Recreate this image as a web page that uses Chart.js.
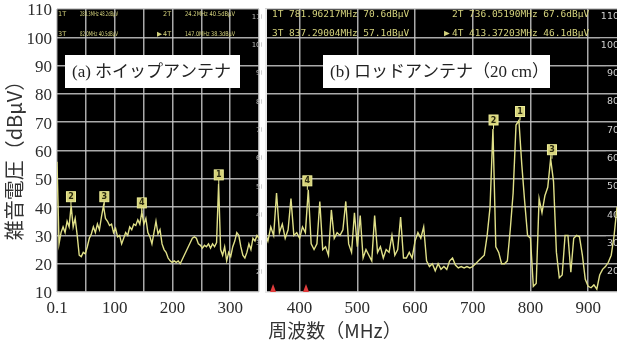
<!DOCTYPE html>
<html>
<head>
<meta charset="utf-8">
<script src="https://cdn.jsdelivr.net/npm/chart.js@4.4.1/dist/chart.umd.min.js"></script>
<style>
body { margin: 0; background: #fff; }
#wrap { position: relative; width: 617px; height: 347px; overflow: hidden; }
#whip { position: absolute; left: 0; top: 0; }
#rod { position: absolute; left: 262px; top: 0; }
#xtitle { position: absolute; left: 0; top: 319px; width: 670px; text-align: center;
  font: 19px "Noto Sans CJK JP"; line-height: 22px; color: #333; }
</style>
</head>
<body>
<div id="wrap">
  <canvas id="whip" width="262" height="347"></canvas>
  <canvas id="rod" width="355" height="347"></canvas>
  <div id="xtitle">周波数（MHz）</div>
</div>
<script>
// (a) whip antenna, sweep 0.1 - 350 MHz, one reading every 3.5 MHz
var whipStart = 0;
var whipStep = 3.5;
var whipLevel = [56, 27, 31, 33, 31, 35, 33, 40.5, 33, 36,
  30, 23, 22.5, 24, 23.5, 26, 29, 30.5, 33, 31,
  34, 32, 36.5, 40.5, 36, 35, 33.5, 34, 31, 32.5,
  29.5, 30, 27, 29, 31, 30, 33, 32, 34, 33.5,
  35.5, 34, 38.3, 34, 36, 31, 29.5, 27, 31, 35,
  30.5, 32, 27, 25, 24, 22, 21, 20.5, 21, 20.5,
  21, 20, 21.5, 23, 24.5, 26, 27.5, 29, 29.5, 29,
  27, 26.5, 25.5, 26.5, 26, 27, 25.5, 27, 26, 27.5,
  48.2, 25, 23, 26, 21, 24, 22.5, 26, 28, 31,
  30, 26, 23, 22, 24, 27, 25, 29, 28, 30, 29];
var whipTicks = [0, 50, 100, 150, 200, 250, 300, 350];
var whipTickLabels = ['0.1', '', '100', '', '200', '', '300', ''];
var whipMarkerFreq = [280.3, 24.2, 82.0, 147.0];
var whipMarkerLevel = [48.2, 40.5, 40.5, 38.3];

// (b) rod antenna 20 cm, 340 - 950 MHz, one reading every 5 MHz
var rodStart = 340;
var rodStep = 5;
var rodLevel = [31, 28, 33, 30, 45, 31, 34, 29, 32, 43,
  30, 31, 29, 33, 31, 46.1, 27, 25, 27, 42,
  25, 26, 23, 39, 29, 31, 30, 32, 42, 27,
  24, 38, 26, 37, 22, 25, 23, 21, 37, 24,
  26, 22, 25, 24, 30, 23, 25, 36.5, 22, 22,
  24, 22, 28, 31, 29, 33, 21, 19, 20, 17.5,
  20, 18, 19, 18, 21, 22, 19.5, 18.5, 19, 18.5,
  19, 18.5, 19, 20, 21, 22, 23, 30, 40, 67.6,
  26, 24, 20, 20, 21, 32, 45, 69, 70.6, 55,
  42, 30, 29, 12, 13, 43, 38, 44, 47, 57.1,
  49, 24, 15, 16, 30, 30, 17, 29, 30, 29.5,
  23, 14.5, 12, 11.5, 12.5, 11, 16, 18, 19, 20.5,
  23, 30, 40];
var rodTicks = [400, 500, 600, 700, 800, 900];
var rodTickLabels = ['400', '500', '600', '700', '800', '900'];
var rodMarkerFreq = [781.96217, 736.05190, 837.29004, 413.37203];
var rodMarkerLevel = [70.6, 67.6, 57.1, 46.1];
var rodRedMarks = [354, 411];

var levelMin = 10, levelMax = 110, levelStep = 10;

var gridColor = 'rgba(200,200,200,0.85)';
var traceColor = '#e0e088';
var serif = '"Liberation Serif", "DejaVu Serif", serif';

function toPoints(start, step, levels) {
  return levels.map(function(v, i) { return {x: start + i * step, y: v}; });
}

function fixWidth(w) {
  return function(scale) { scale.width = w; scale.paddingTop = 0; scale.paddingBottom = 0; };
}
function fixHeight(h) {
  return function(scale) { scale.height = h; scale.paddingLeft = 0; scale.paddingRight = 0; };
}
function setTicks(list) {
  return function(scale) { scale.ticks = list.map(function(v) { return {value: v}; }); };
}

function panelPlugin(cfg) {
  return {
    id: 'panel_' + cfg.name,
    beforeDraw: function(chart) {
      var a = chart.chartArea, ctx = chart.ctx;
      ctx.save();
      ctx.fillStyle = '#000';
      ctx.fillRect(a.left, a.top, a.right - a.left, a.bottom - a.top);
      ctx.restore();
    },
    afterDatasetsDraw: function(chart) {
      var ctx = chart.ctx, xs = chart.scales.x, ys = chart.scales.y, a = chart.chartArea;
      ctx.save();
      // red reference marks sitting on the bottom edge
      ctx.fillStyle = '#e03c3c';
      (cfg.redMarks || []).forEach(function(f) {
        var px = xs.getPixelForValue(f);
        ctx.beginPath();
        ctx.moveTo(px - 3, a.bottom);
        ctx.lineTo(px, a.bottom - 8);
        ctx.lineTo(px + 3, a.bottom);
        ctx.fill();
      });
      // numbered marker flags above each peak
      for (var i = 0; i < cfg.markerFreq.length; i++) {
        var px = xs.getPixelForValue(cfg.markerFreq[i]);
        var py = ys.getPixelForValue(cfg.markerLevel[i]);
        ctx.strokeStyle = '#eeee98';
        ctx.lineWidth = 1;
        ctx.beginPath();
        ctx.moveTo(px, py);
        ctx.lineTo(px, py - 4);
        ctx.stroke();
        ctx.fillStyle = '#d6d27a';
        ctx.fillRect(px - 4.5, py - 14, 9, 10);
        ctx.strokeRect(px - 4.5, py - 14, 9, 10);
        ctx.fillStyle = '#2a2a10';
        ctx.font = 'bold 8px "DejaVu Sans"';
        ctx.textAlign = 'center';
        ctx.textBaseline = 'middle';
        ctx.fillText(String(i + 1), px, py - 8.5);
      }
      ctx.restore();
    },
    afterDraw: function(chart) {
      var ctx = chart.ctx, a = chart.chartArea;
      ctx.save();
      if (cfg.edge) {
        ctx.fillStyle = '#eaeaea';
        ctx.fillRect(a.left, a.top, 2, a.bottom - a.top);
      }
      // marker readout at the top of the screen
      ctx.fillStyle = '#d4d27c';
      ctx.font = cfg.headFont;
      ctx.textAlign = 'left';
      ctx.textBaseline = 'middle';
      for (var i = 0; i < cfg.markerFreq.length; i++) {
        var cx = a.left + cfg.headCols[i % 2];
        var cy = a.top + cfg.headRows[Math.floor(i / 2)];
        var txt = cfg.markerFreq[i].toFixed(cfg.digits) + 'MHz ' + cfg.markerLevel[i].toFixed(1) + 'dBμV';
        if (i == 3) ctx.fillText('▶', cx - cfg.arrowGap, cy);
        ctx.fillText((i + 1) + 'T', cx, cy);
        ctx.fillText(txt, cx + cfg.valueGap, cy, cfg.valueWidth[i % 2]);
      }
      // caption box
      var b = cfg.box;
      ctx.fillStyle = '#fff';
      ctx.fillRect(a.left + b.x, a.top + b.y, b.w, b.h);
      ctx.fillStyle = '#222';
      ctx.font = '17px ' + serif + ', "Noto Sans CJK JP"';
      ctx.fillText(b.text, a.left + b.x + 7, a.top + b.y + b.h / 2 + 1);
      ctx.restore();
    }
  };
}

Chart.defaults.font.family = '"DejaVu Sans", sans-serif';

var whipChart = new Chart(document.getElementById('whip'), {
  type: 'line',
  data: {
    datasets: [{
      data: toPoints(whipStart, whipStep, whipLevel),
      borderColor: traceColor,
      borderWidth: 1.4,
      pointRadius: 0,
      tension: 0,
      yAxisID: 'y'
    }]
  },
  options: {
    responsive: false,
    animation: false,
    layout: {padding: {top: 9, right: 3, left: 0, bottom: 0}},
    plugins: {legend: {display: false}, tooltip: {enabled: false}},
    scales: {
      x: {
        type: 'linear', min: 0, max: 350,
        afterFit: fixHeight(55),
        afterBuildTicks: setTicks(whipTicks),
        border: {display: false},
        grid: {color: gridColor, lineWidth: 1.5, drawTicks: false},
        ticks: {
          autoSkip: false, maxRotation: 0, padding: 6, color: '#2c2c2c',
          font: {family: serif, size: 17},
          callback: function(v, i) { return whipTickLabels[i]; }
        }
      },
      y: {
        min: levelMin, max: levelMax,
        afterFit: fixWidth(57),
        border: {display: false},
        grid: {color: gridColor, lineWidth: 1.5, drawTicks: false},
        ticks: {stepSize: levelStep, padding: 5, labelOffset: 2, color: '#2c2c2c', font: {family: serif, size: 17}},
        title: {display: true, text: '雑音電圧（dBμV）\u3000', color: '#333', padding: {top: 2, bottom: 0},
          font: {family: '"Noto Sans CJK JP"', size: 20}}
      },
      y2: {
        position: 'right', min: levelMin, max: levelMax,
        afterFit: fixWidth(0),
        border: {display: false},
        grid: {display: false},
        ticks: {
          stepSize: levelStep, mirror: true, padding: 6, labelOffset: 8, color: '#bdbdbd',
          font: {size: 7},
          callback: function(v) { return v == levelMin ? '' : v; }
        }
      }
    }
  },
  plugins: [panelPlugin({
    name: 'whip',
    markerFreq: whipMarkerFreq, markerLevel: whipMarkerLevel, digits: 1,
    headFont: '6.5px "DejaVu Sans"', headCols: [1, 106], headRows: [5, 25],
    valueGap: 22, valueWidth: [38, 50], arrowGap: 6,
    box: {x: 8, y: 46, w: 175, h: 33, text: '(a) ホイップアンテナ'}
  })]
});

var rodChart = new Chart(document.getElementById('rod'), {
  type: 'line',
  data: {
    datasets: [{
      data: toPoints(rodStart, rodStep, rodLevel),
      borderColor: traceColor,
      borderWidth: 1.4,
      pointRadius: 0,
      tension: 0
    }]
  },
  options: {
    responsive: false,
    animation: false,
    layout: {padding: {top: 9, right: 0, left: 3, bottom: 0}},
    plugins: {legend: {display: false}, tooltip: {enabled: false}},
    scales: {
      x: {
        type: 'linear', min: 340, max: 950,
        afterFit: fixHeight(55),
        afterBuildTicks: setTicks(rodTicks),
        border: {display: false},
        grid: {color: gridColor, lineWidth: 1.5, drawTicks: false},
        ticks: {
          autoSkip: false, maxRotation: 0, padding: 6, color: '#2c2c2c',
          font: {family: serif, size: 17},
          callback: function(v, i) { return rodTickLabels[i]; }
        }
      },
      y: {
        position: 'right', min: levelMin, max: levelMax,
        afterFit: fixWidth(0),
        border: {display: false},
        grid: {color: gridColor, lineWidth: 1.5, drawTicks: false},
        ticks: {
          stepSize: levelStep, mirror: true, padding: 2, labelOffset: 8, color: '#cfcfcf',
          font: {size: 9.5},
          showLabelBackdrop: true, backdropColor: '#000', backdropPadding: 1,
          callback: function(v) { return v == levelMin ? '' : v; }
        }
      }
    }
  },
  plugins: [panelPlugin({
    name: 'rod', edge: true, redMarks: rodRedMarks,
    markerFreq: rodMarkerFreq, markerLevel: rodMarkerLevel, digits: 5,
    headFont: '9.5px "DejaVu Sans Mono"', headCols: [7, 187], headRows: [6, 25],
    valueGap: 17, valueWidth: [125, 125], arrowGap: 8,
    box: {x: 58, y: 46, w: 227, h: 33, text: '(b) ロッドアンテナ（20 cm）'}
  })]
});
</script>
</body>
</html>
